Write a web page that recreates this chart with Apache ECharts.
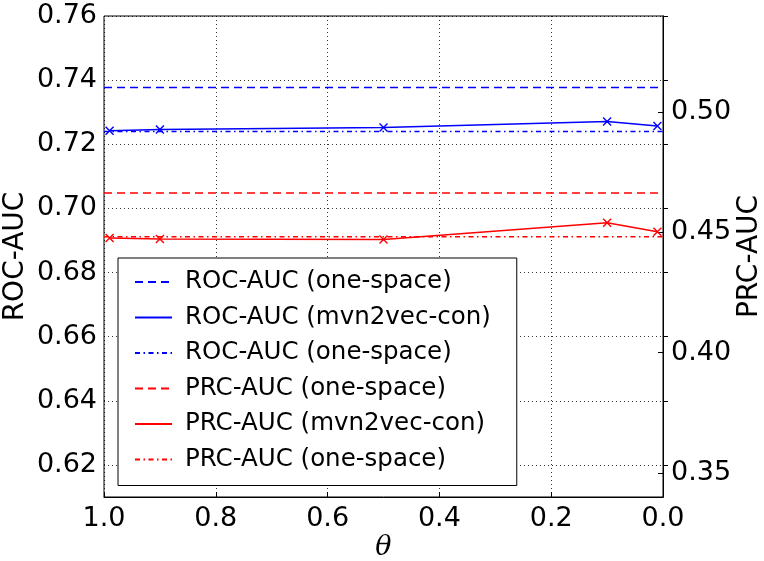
<!DOCTYPE html>
<html>
<head>
<meta charset="utf-8">
<script src="https://cdn.jsdelivr.net/npm/echarts@6/dist/echarts.min.js"></script>
<style>
html,body{margin:0;padding:0;background:#fff;}
#c{width:764px;height:561px;}
</style>
</head>
<body>
<div id="c"></div>
<script>
// ---- data ----
var thetaPoints = [0.99, 0.9, 0.5, 0.1, 0.01];
var thetaSpan = [1.0, 0.0];
var rocOneSpace = 0.7377;
var rocMvn2vecCon = [0.7242, 0.7246, 0.7252, 0.7271, 0.7257];
var rocOneSpace2 = 0.7240;
var prcOneSpace = 0.4664;
var prcMvn2vecCon = [0.4477, 0.4473, 0.4471, 0.4540, 0.4503];
var prcOneSpace2 = 0.4482;
var seriesNames = [
  'ROC-AUC (one-space)',
  'ROC-AUC (mvn2vec-con)',
  'ROC-AUC (one-space) ',
  'PRC-AUC (one-space)',
  'PRC-AUC (mvn2vec-con)',
  'PRC-AUC (one-space) '
];
var xTickLabels = ['0.0', '0.2', '0.4', '0.6', '0.8', '1.0'];

function flat(v) { return thetaSpan.map(function (t) { return [t, v]; }); }
function pts(vals) { return thetaPoints.map(function (t, i) { return [t, vals[i]]; }); }

var BLUE = '#0000ff', RED = '#ff0000';
var DASH = [8, 5];
var DASHDOT = [5, 3.5, 1.5, 3.5];
var XSYM = 'path://M0,0L10,10M10,0L0,10';
var FONT = 'DejaVu Sans';

function lineSeries(name, data, color, type, yIdx, withMarker) {
  return {
    name: name,
    type: 'line',
    yAxisIndex: yIdx,
    data: data,
    symbol: withMarker ? XSYM : 'none',
    symbolSize: 8,
    showSymbol: withMarker,
    itemStyle: { color: color, borderColor: color, borderWidth: 1.4 },
    lineStyle: { color: color, width: 1.5, type: type },
    silent: true
  };
}

var chart = echarts.init(document.getElementById('c'), null, { renderer: 'canvas' });
chart.setOption({
  animation: false,
  backgroundColor: '#fff',
  grid: { left: 104, right: 101, top: 16, bottom: 64, show: true, borderColor: '#000', borderWidth: 1, backgroundColor: 'transparent', containLabel: false, outerBoundsMode: 'none' },
  legend: {
    orient: 'vertical',
    left: 118, top: 258,
    data: seriesNames,
    formatter: function (n) { return n.trim(); },
    selectedMode: false,
    backgroundColor: '#fff',
    borderColor: '#000',
    borderWidth: 1,
    padding: [10, 26, 12, 16],
    itemWidth: 37,
    itemHeight: 14,
    itemGap: 7.5,
    itemStyle: { opacity: 0 },
    textStyle: { fontFamily: FONT, fontSize: 24.5, color: '#000', lineHeight: 28, padding: [0, 0, 0, 8] }
  },
  xAxis: {
    type: 'value',
    min: 0, max: 1, interval: 0.2,
    inverse: true,
    name: 'θ',
    nameLocation: 'middle',
    nameGap: 37,
    nameMoveOverlap: false,
    nameTextStyle: { fontFamily: 'DejaVu Serif', fontStyle: 'italic', fontSize: 27, color: '#000' },
    axisLine: { show: true, lineStyle: { color: '#000', width: 1 } },
    axisTick: { show: true, inside: true, length: 5, lineStyle: { color: '#000' } },
    axisLabel: {
      margin: 8, fontFamily: FONT, fontSize: 27, color: '#000',
      formatter: function (v) { return xTickLabels[Math.round(v * 5)]; }
    },
    splitLine: { show: true, lineStyle: { color: '#000', width: 0.8, type: [1, 3] } }
  },
  yAxis: [
    {
      type: 'value',
      min: 0.61, max: 0.76, splitNumber: 7,
      position: 'left',
      name: 'ROC-AUC',
      nameLocation: 'middle',
      nameRotate: 90,
      nameGap: 74,
      nameMoveOverlap: false,
      nameTextStyle: { fontFamily: FONT, fontSize: 28, color: '#000' },
      axisLine: { show: true, lineStyle: { color: '#000', width: 1 } },
      axisTick: { show: true, inside: true, length: 5, lineStyle: { color: '#000' } },
      axisLabel: {
        margin: 7, fontFamily: FONT, fontSize: 27, color: '#000', showMinLabel: false,
        formatter: function (v) { return v.toFixed(2); }
      },
      splitLine: { show: true, lineStyle: { color: '#000', width: 0.8, type: [1, 3] } }
    },
    {
      type: 'value',
      min: 0.34, max: 0.54, splitNumber: 5,
      position: 'right',
      alignTicks: false,
      name: 'PRC-AUC',
      nameLocation: 'middle',
      nameRotate: 90,
      nameGap: 73,
      nameMoveOverlap: false,
      nameTextStyle: { fontFamily: FONT, fontSize: 28, color: '#000' },
      axisLine: { show: true, lineStyle: { color: '#000', width: 1 } },
      axisTick: { show: true, inside: true, length: 5, lineStyle: { color: '#000' } },
      axisLabel: {
        margin: 8, fontFamily: FONT, fontSize: 27, color: '#000', showMinLabel: false, showMaxLabel: false,
        formatter: function (v) { return v.toFixed(2); }
      },
      splitLine: { show: false }
    }
  ],
  series: [
    lineSeries(seriesNames[0], flat(rocOneSpace), BLUE, DASH, 0, false),
    lineSeries(seriesNames[1], pts(rocMvn2vecCon), BLUE, 'solid', 0, true),
    lineSeries(seriesNames[2], flat(rocOneSpace2), BLUE, DASHDOT, 0, false),
    lineSeries(seriesNames[3], flat(prcOneSpace), RED, DASH, 1, false),
    lineSeries(seriesNames[4], pts(prcMvn2vecCon), RED, 'solid', 1, true),
    lineSeries(seriesNames[5], flat(prcOneSpace2), RED, DASHDOT, 1, false)
  ]
});
</script>
</body>
</html>
